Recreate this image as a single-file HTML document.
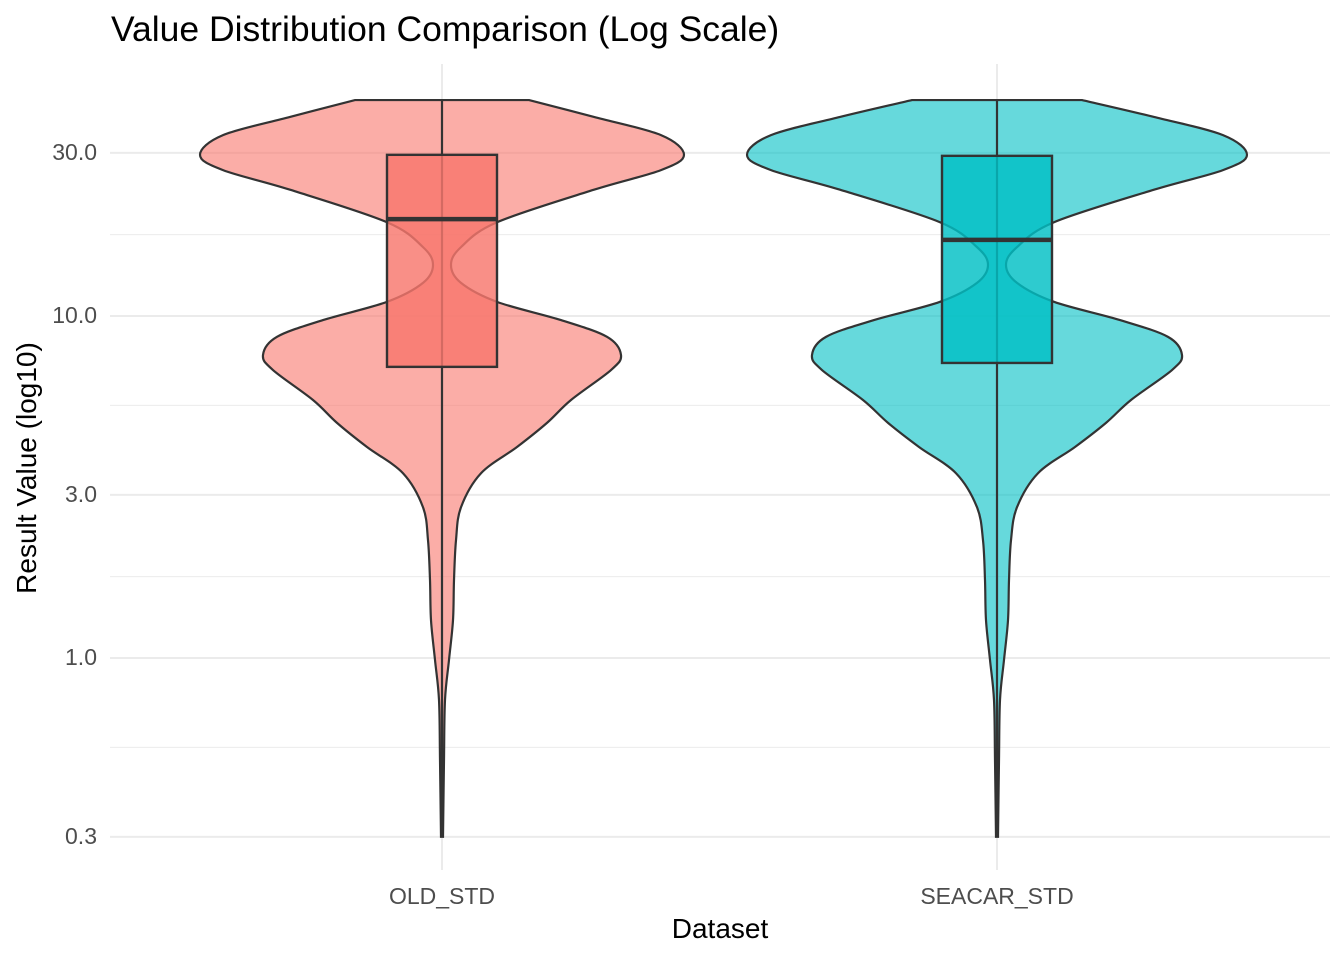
<!DOCTYPE html>
<html><head><meta charset="utf-8"><style>
body{margin:0;background:#fff;}
svg{display:block;font-family:"Liberation Sans",sans-serif;}
</style></head><body>
<svg id="chart" width="1344" height="960">
<text x="111" y="41" font-size="35.5" fill="#000">Value Distribution Comparison (Log Scale)</text>
<g id="grid"></g>
<g id="marks"></g>
<g id="axes"></g>
<text x="720" y="938" font-size="28" text-anchor="middle" fill="#000">Dataset</text>
<text transform="translate(36,468) rotate(-90)" font-size="28" text-anchor="middle" fill="#000">Result Value (log10)</text>
</svg>
<script>
const categories = ["OLD_STD", "SEACAR_STD"];
const colors = ["#F8766D", "#00BFC4"];
const yTicks = [0.3, 1, 3, 10, 30];
const yTickLabels = ["0.3", "1.0", "3.0", "10.0", "30.0"];
const yMinor = [0.548, 1.73, 5.48, 17.3];
const densValues = [42.8,38.2,33.8,29.6,26.7,23.4,18.8,15.9,14.1,12.5,11.0,9.73,8.69,7.69,6.95,5.68,4.87,4.14,3.47,2.76,2.21,1.69,1.29,0.987,0.754,0.504,0.30];
const densOld = [87,152,219,242,219,152,55,19,9,19,55,119,165,179,169,129,105,75,39,19,14,12,11,7,3,2,1];
const densSeacar = [85,157,226,250,226,157,57,20,9,20,57,123,171,185,175,134,109,78,41,20,14,12,11,7,3,2,1];
const boxOld = {lo:0.3, q1:7.10, med:19.2, q3:29.6, hi:42.8};
const boxSeacar = {lo:0.3, q1:7.29, med:16.7, q3:29.4, hi:42.8};

const NS="http://www.w3.org/2000/svg";
function yS(v){return 658-342*Math.log10(v);}
function xS(i){return 442+555*i;}
function wS(d){return d;}
function mk(tag,attrs,parent){const e=document.createElementNS(NS,tag);for(const k in attrs)e.setAttribute(k,attrs[k]);parent.appendChild(e);return e;}
const grid=document.getElementById('grid'),marks=document.getElementById('marks'),axes=document.getElementById('axes');
yMinor.forEach(v=>{const l=mk('line',{x1:110,x2:1330,y1:yS(v),y2:yS(v),stroke:'#ebebeb','stroke-width':1},grid);

});
yTicks.forEach((v,i)=>{const l=mk('line',{x1:110,x2:1330,y1:yS(v),y2:yS(v),stroke:'#ebebeb','stroke-width':2},grid);


const t=mk('text',{x:97,y:yS(v)+7,'font-size':23,'text-anchor':'end',fill:'#4d4d4d'},axes);t.textContent=yTickLabels[i];

});
categories.forEach((c,i)=>{const l=mk('line',{x1:xS(i),x2:xS(i),y1:64,y2:870,stroke:'#ebebeb','stroke-width':2},grid);


const t=mk('text',{x:xS(i),y:904,'font-size':23,'text-anchor':'middle',fill:'#4d4d4d'},axes);t.textContent=c;

});
function smooth(pts){let d='M'+pts[0][0]+','+pts[0][1];for(let i=0;i<pts.length-1;i++){const p0=pts[Math.max(0,i-1)],p1=pts[i],p2=pts[i+1],p3=pts[Math.min(pts.length-1,i+2)];
d+=' C'+(p1[0]+(p2[0]-p0[0])/6)+','+(p1[1]+(p2[1]-p0[1])/6)+' '+(p2[0]-(p3[0]-p1[0])/6)+','+(p2[1]-(p3[1]-p1[1])/6)+' '+p2[0]+','+p2[1];}return d;}
const dens=[densOld,densSeacar],boxes=[boxOld,boxSeacar];
categories.forEach((c,i)=>{const cx=xS(i);
const right=densValues.map((v,k)=>[cx+wS(dens[i][k]),yS(v)]);
const left=densValues.map((v,k)=>[cx-wS(dens[i][k]),yS(v)]).reverse();
const d=smooth(right)+' L'+left[0][0]+','+left[0][1]+smooth(left).replace(/^M[^ ]+/,'')+' Z';
const b=boxes[i];
const v=mk('path',{d:d,fill:colors[i],'fill-opacity':0.6,stroke:'#333','stroke-width':2.2},marks);


const wl=mk('line',{x1:cx,x2:cx,y1:yS(b.hi),y2:yS(b.lo),stroke:'#333','stroke-width':2.2},marks);


const r=mk('rect',{x:cx-55,width:110,y:yS(b.q3),height:yS(b.q1)-yS(b.q3),fill:colors[i],'fill-opacity':0.82,stroke:'#333','stroke-width':2.4},marks);


const m=mk('line',{x1:cx-55,x2:cx+55,y1:yS(b.med),y2:yS(b.med),stroke:'#333','stroke-width':4.5},marks);


});
</script>
</body></html>
